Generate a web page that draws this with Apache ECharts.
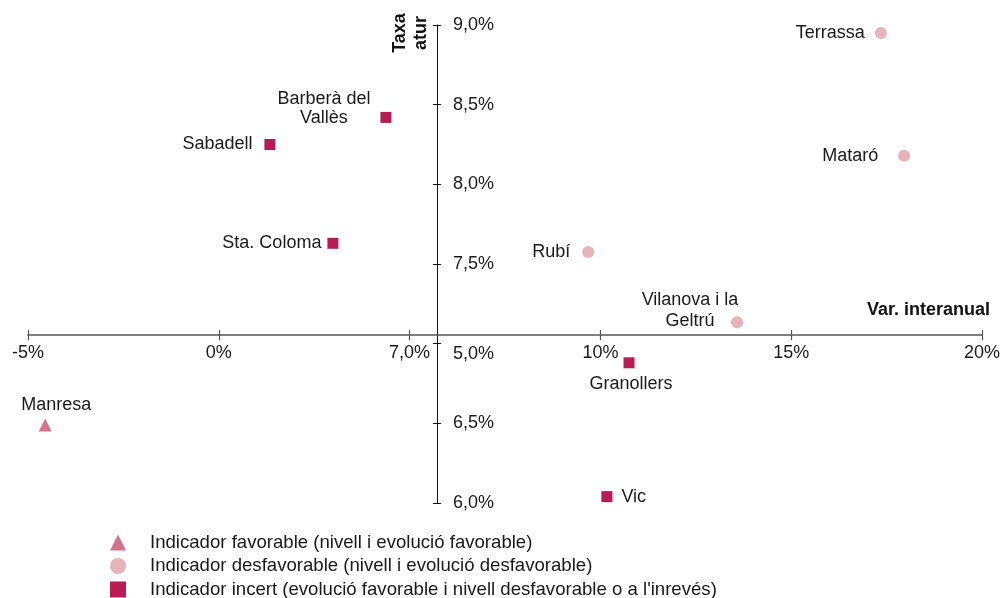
<!DOCTYPE html>
<html>
<head>
<meta charset="utf-8">
<script src="https://cdn.jsdelivr.net/npm/echarts@6/dist/echarts.min.js"></script>
<style>
html,body{margin:0;padding:0;background:#fff;}
#c{width:1004px;height:598px;}
</style>
</head>
<body>
<div id="c"></div>
<script>
// ---- data ----
var favorableNames = ['Manresa'];
var favorableX = [-4.55];
var favorableY = [6.49];

var desfavorableNames = ['Terrassa', 'Mataró', 'Rubí', 'Vilanova i la\nGeltrú'];
var desfavorableX = [17.35, 17.96, 9.68, 13.58];
var desfavorableY = [8.95, 8.18, 7.575, 7.135];

var incertNames = ['Barberà del\nVallès', 'Sabadell', 'Sta. Coloma', 'Granollers', 'Vic'];
var incertX = [4.38, 1.34, 2.99, 10.75, 10.17];
var incertY = [8.42, 8.25, 7.63, 6.88, 6.04];

var seriesNames = [
  'Indicador favorable (nivell i evolució favorable)',
  'Indicador desfavorable (nivell i evolució desfavorable)',
  "Indicador incert (evolució favorable i nivell desfavorable o a l'inrevés)"
];

var xTickLabels = {'-5': '-5%', '0': '0%', '5': '7,0%', '10': '10%', '15': '15%', '20': '20%'};
var yTickLabels = {'6': '6,0%', '6.5': '6,5%', '7': '5,0%', '7.5': '7,5%', '8': '8,0%', '8.5': '8,5%', '9': '9,0%'};

// ---- label placement (styles) ----
var labelCfg = {
  'Manresa': {position: 'top', distance: 4, offset: [11, 0]},
  'Terrassa': {position: 'left', distance: 10},
  'Mataró': {position: 'left', distance: 20},
  'Rubí': {position: 'left', distance: 12},
  'Vilanova i la\nGeltrú': {position: 'inside', align: 'center', verticalAlign: 'middle', offset: [-47, -12], lineHeight: 21},
  'Barberà del\nVallès': {position: 'inside', align: 'center', verticalAlign: 'middle', offset: [-62, -9], lineHeight: 19},
  'Sabadell': {position: 'left', distance: 12},
  'Sta. Coloma': {position: 'left', distance: 6},
  'Granollers': {position: 'bottom', distance: 7, offset: [2, 0]},
  'Vic': {position: 'right', distance: 9}
};

function build(names, xs, ys) {
  return names.map(function (n, i) {
    var l = Object.assign({show: true}, labelCfg[n] || {});
    return {name: n, value: [xs[i], ys[i]], label: l};
  });
}

var FONT = '"Liberation Sans", Arial, Helvetica, sans-serif';
var chart = echarts.init(document.getElementById('c'));

var labelBase = {show: true, color: '#1a1a1a', fontSize: 18, fontFamily: FONT, formatter: '{b}'};

chart.setOption({
  animation: false,
  backgroundColor: '#fff',
  textStyle: {fontFamily: FONT},
  grid: {left: 28, right: 22, top: 25, bottom: 95, containLabel: false},
  xAxis: [{
    type: 'value', min: -5, max: 20, interval: 5, position: 'bottom', offset: -168,
    axisLine: {show: true, lineStyle: {color: '#555', width: 1.5}},
    axisTick: {show: true, length: 5, lineStyle: {color: '#555', width: 1.2}},
    axisLabel: {color: '#1a1a1a', fontSize: 18, fontFamily: FONT, margin: 9,
      formatter: function (v) { return xTickLabels[String(v)] || ''; }},
    splitLine: {show: false}
  }, {
    type: 'value', min: -5, max: 20, interval: 5, position: 'bottom', offset: -168,
    axisLine: {show: false},
    axisTick: {show: true, inside: true, length: 5, lineStyle: {color: '#555', width: 1.2}},
    axisLabel: {show: false}, splitLine: {show: false}
  }],
  yAxis: [{
    type: 'value', min: 6, max: 9, interval: 0.5, position: 'left', offset: -409,
    axisLine: {show: true, lineStyle: {color: '#111', width: 1}},
    axisTick: {show: true, length: 4, lineStyle: {color: '#111', width: 1}},
    axisLabel: {inside: true, color: '#1a1a1a', fontSize: 18, fontFamily: FONT, margin: 16,
      formatter: function (v) {
        var key = String(Math.round(v * 10) / 10);
        var t = yTickLabels[key] || '';
        if (key === '7') return '{s|' + t + '}';
        return t;
      },
      rich: {s: {fontSize: 18, color: '#1a1a1a', fontFamily: FONT, padding: [20, 0, 0, 0]}}
    },
    splitLine: {show: false}
  }, {
    type: 'value', min: 6, max: 9, interval: 0.5, position: 'left', offset: -409,
    axisLine: {show: false},
    axisTick: {show: true, inside: true, length: 4, lineStyle: {color: '#111', width: 1}},
    axisLabel: {show: false}, splitLine: {show: false}
  }],
  legend: {
    orient: 'vertical', left: 110, top: 533, height: 90, padding: 0,
    itemWidth: 16, itemHeight: 16, itemGap: 4.5,
    textStyle: {color: '#1a1a1a', fontSize: 18.6, fontFamily: FONT, lineHeight: 16, padding: [0, 0, 0, 19]},
    data: [
      {name: seriesNames[0], icon: 'triangle'},
      {name: seriesNames[1], icon: 'circle'},
      {name: seriesNames[2], icon: 'rect'}
    ]
  },
  series: [{
    name: seriesNames[0], type: 'scatter', symbol: 'triangle', symbolSize: 13,
    itemStyle: {color: '#d4728a', opacity: 1}, label: labelBase,
    data: build(favorableNames, favorableX, favorableY)
  }, {
    name: seriesNames[1], type: 'scatter', symbol: 'circle', symbolSize: 12,
    itemStyle: {color: '#e8b2b9', opacity: 1}, label: labelBase,
    data: build(desfavorableNames, desfavorableX, desfavorableY)
  }, {
    name: seriesNames[2], type: 'scatter', symbol: 'rect', symbolSize: 11,
    itemStyle: {color: '#b81c54', opacity: 1}, label: labelBase,
    data: build(incertNames, incertX, incertY)
  }],
  graphic: [{
    type: 'text', x: 411, y: 33, rotation: Math.PI / 2,
    style: {text: 'Taxa\natur', font: 'bold 18px ' + FONT, fill: '#111', textAlign: 'center', textVerticalAlign: 'middle', lineHeight: 21}
  }, {
    type: 'text', x: 990, y: 310,
    style: {text: 'Var. interanual', font: 'bold 18px ' + FONT, fill: '#111', textAlign: 'right', textVerticalAlign: 'middle'}
  }]
});
</script>
</body>
</html>
